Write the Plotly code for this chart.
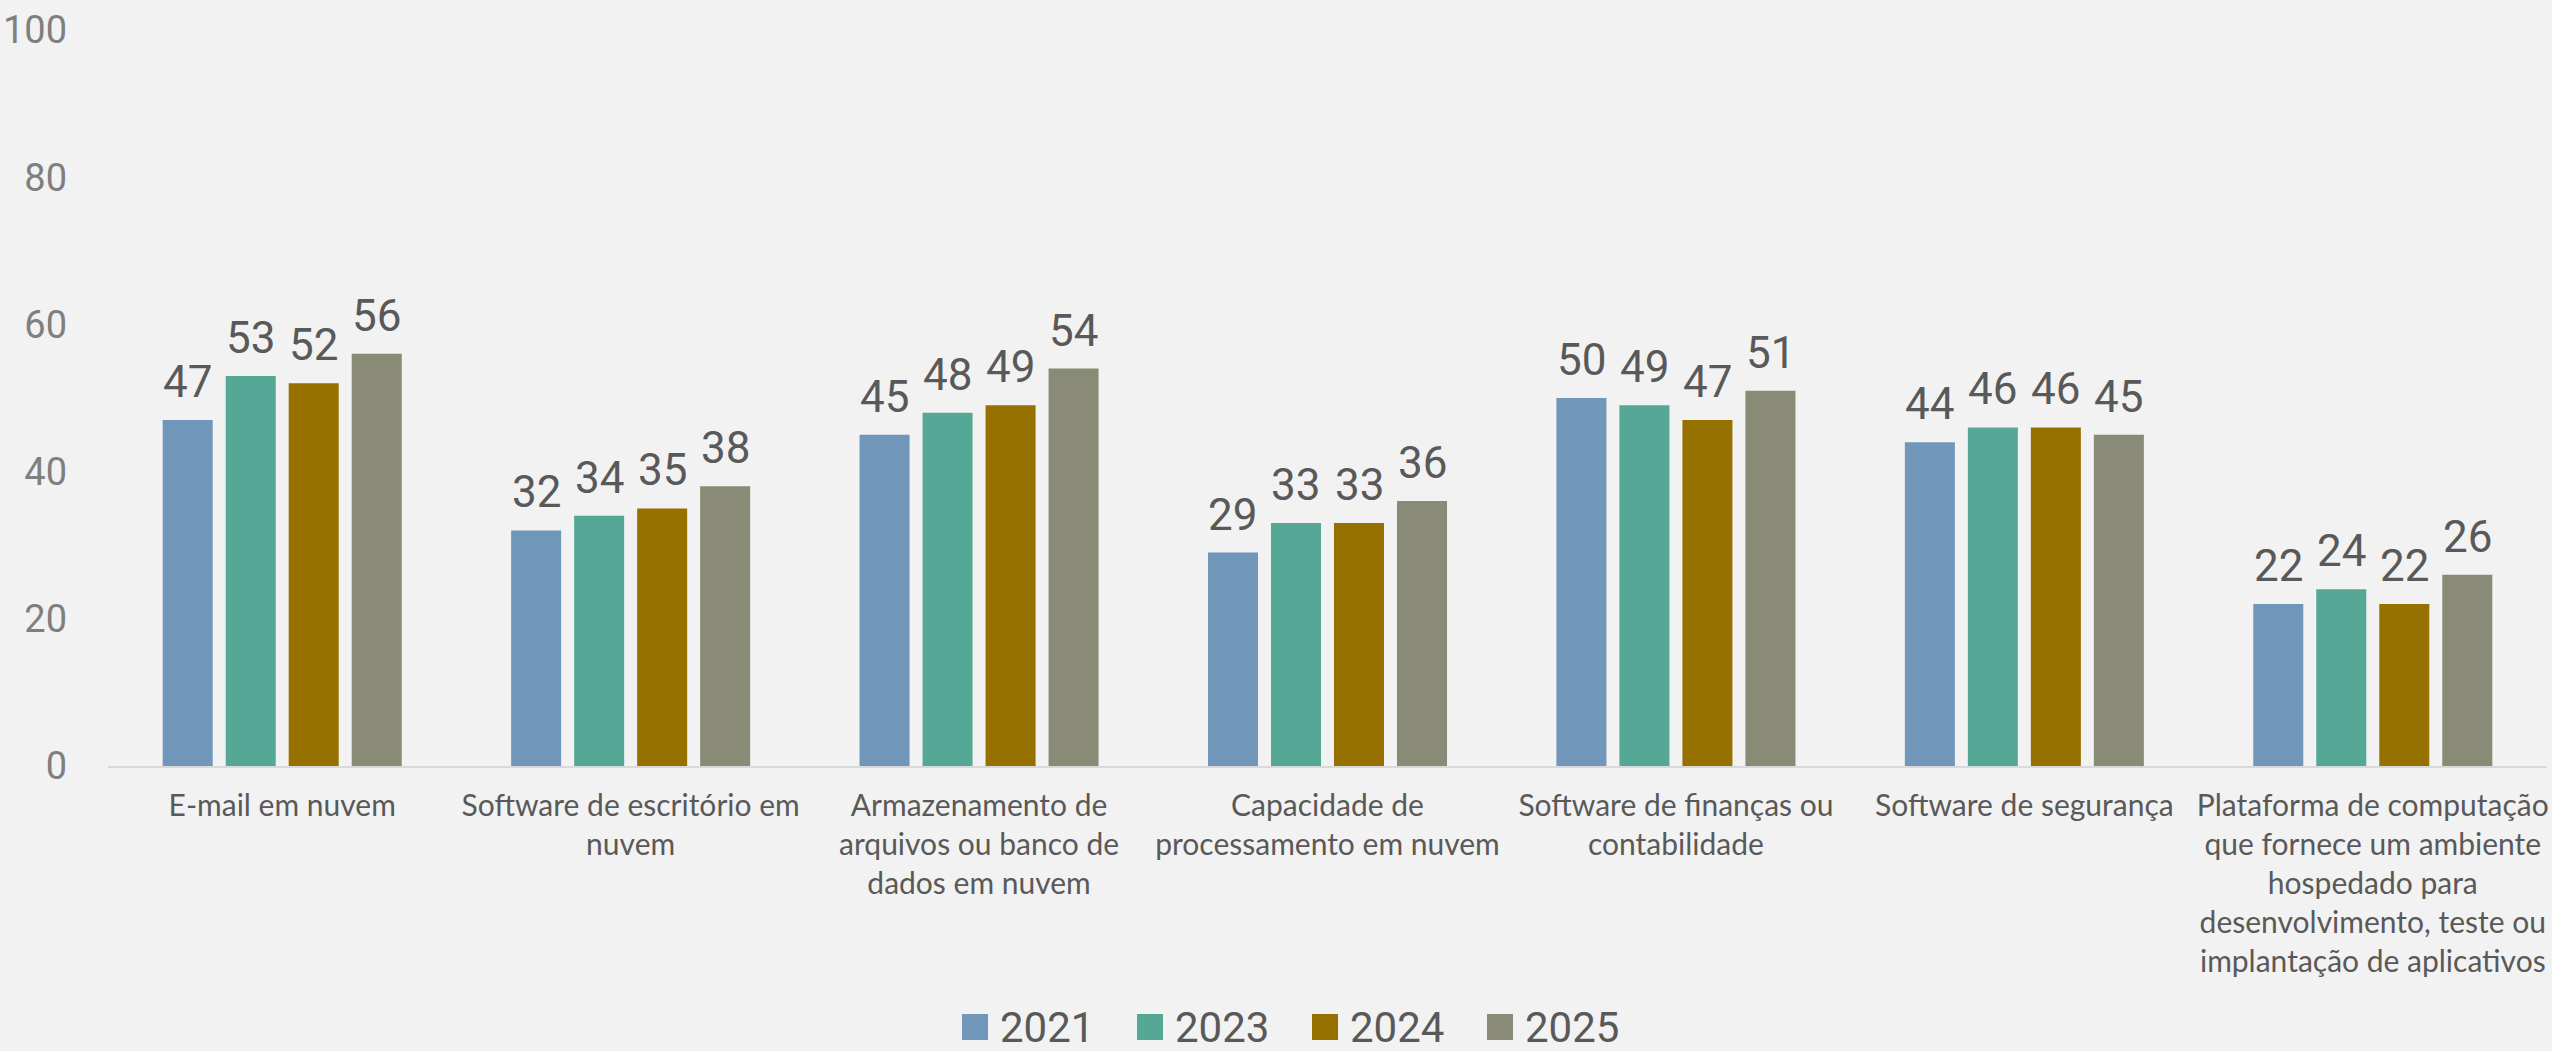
import plotly.graph_objects as go

# Categories (tick labels, wrapped)
categories = [
    "E-mail em nuvem",
    "Software de escritório em<br>nuvem",
    "Armazenamento de<br>arquivos ou banco de<br>dados em nuvem",
    "Capacidade de<br>processamento em nuvem",
    "Software de finanças ou<br>contabilidade",
    "Software de segurança",
    "Plataforma de computação<br>que fornece um ambiente<br>hospedado para<br>desenvolvimento, teste ou<br>implantação de aplicativos",
]

years = ["2021", "2023", "2024", "2025"]

v2021 = [47, 32, 45, 29, 50, 44, 22]
v2023 = [53, 34, 48, 33, 49, 46, 24]
v2024 = [52, 35, 49, 33, 47, 46, 22]
v2025 = [56, 38, 54, 36, 51, 45, 26]

series = [v2021, v2023, v2024, v2025]
colors = ["#7097B9", "#56A896", "#977100", "#8A8B76"]

y_ticks = [0, 20, 40, 60, 80, 100]

W, H = 2552, 1051
M_L, M_R, M_T, M_B = 108, 5, 30, 285
PLOT_W = W - M_L - M_R
PLOT_H = H - M_T - M_B
BARGAP = 0.2767
BARGROUPGAP = 0.206

x_pos = list(range(len(categories)))

fig = go.Figure()
for name, vals, col in zip(years, series, colors):
    fig.add_trace(go.Bar(
        x=x_pos, y=vals, name=name,
        marker=dict(color=col, line=dict(width=0)),
        showlegend=False,
    ))

# Value labels above each bar, shifted to each bar's slot within its group
cat_px = PLOT_W / len(categories)
slot = (1 - BARGAP) * cat_px / len(series)
annotations = []
for i, vals in enumerate(series):
    shift = (i - (len(series) - 1) / 2) * slot
    for xj, v in zip(x_pos, vals):
        annotations.append(dict(
            x=xj, y=v, xref="x", yref="y",
            text=str(v), showarrow=False,
            xanchor="center", yanchor="bottom",
            xshift=shift, yshift=10,
            font=dict(family="Roboto", size=44, color="#595959"),
        ))


def px_to_paper(px, py):
    return (px - M_L) / PLOT_W, (H - M_B - py) / PLOT_H


# Legend row along the bottom: square swatch followed by the year
LEG_X0, LEG_STEP, LEG_CY, SWATCH = 962, 175, 1027, 26
shapes = []
for i, (name, col) in enumerate(zip(years, colors)):
    left = LEG_X0 + i * LEG_STEP
    x0, y0 = px_to_paper(left, LEG_CY + SWATCH / 2)
    x1, y1 = px_to_paper(left + SWATCH, LEG_CY - SWATCH / 2)
    shapes.append(dict(
        type="rect", xref="paper", yref="paper",
        x0=x0, y0=y0, x1=x1, y1=y1,
        fillcolor=col, line=dict(width=0),
    ))
    tx, ty = px_to_paper(left + SWATCH + 10, LEG_CY)
    annotations.append(dict(
        x=tx, y=ty, xref="paper", yref="paper",
        text=name, showarrow=False,
        xanchor="left", yanchor="middle",
        font=dict(family="Roboto", size=42, color="#595959"),
    ))

fig.update_layout(
    width=W, height=H,
    barmode="group",
    bargap=BARGAP,
    bargroupgap=BARGROUPGAP,
    paper_bgcolor="#F2F2F2",
    plot_bgcolor="#F2F2F2",
    margin=dict(l=M_L, r=M_R, t=M_T, b=M_B, autoexpand=False),
    annotations=annotations,
    shapes=shapes,
    showlegend=False,
    xaxis=dict(
        range=[-0.5, len(categories) - 0.5],
        tickmode="array",
        tickvals=x_pos,
        ticktext=categories,
        tickangle=0,
        showline=True,
        linecolor="#D9D9D9",
        linewidth=2,
        showgrid=False,
        zeroline=False,
        ticks="",
        ticklabelstandoff=12,
        ticklabeloverflow="allow",
        tickfont=dict(family="Lato", size=30, color="#595959"),
        automargin=False,
    ),
    yaxis=dict(
        range=[0, 100],
        tickmode="array",
        tickvals=y_ticks,
        showgrid=False,
        zeroline=False,
        showline=False,
        ticks="",
        ticklabelstandoff=40,
        tickfont=dict(family="Roboto", size=38, color="#7F7F7F"),
        automargin=False,
    ),
)

fig.write_html("out.html")
